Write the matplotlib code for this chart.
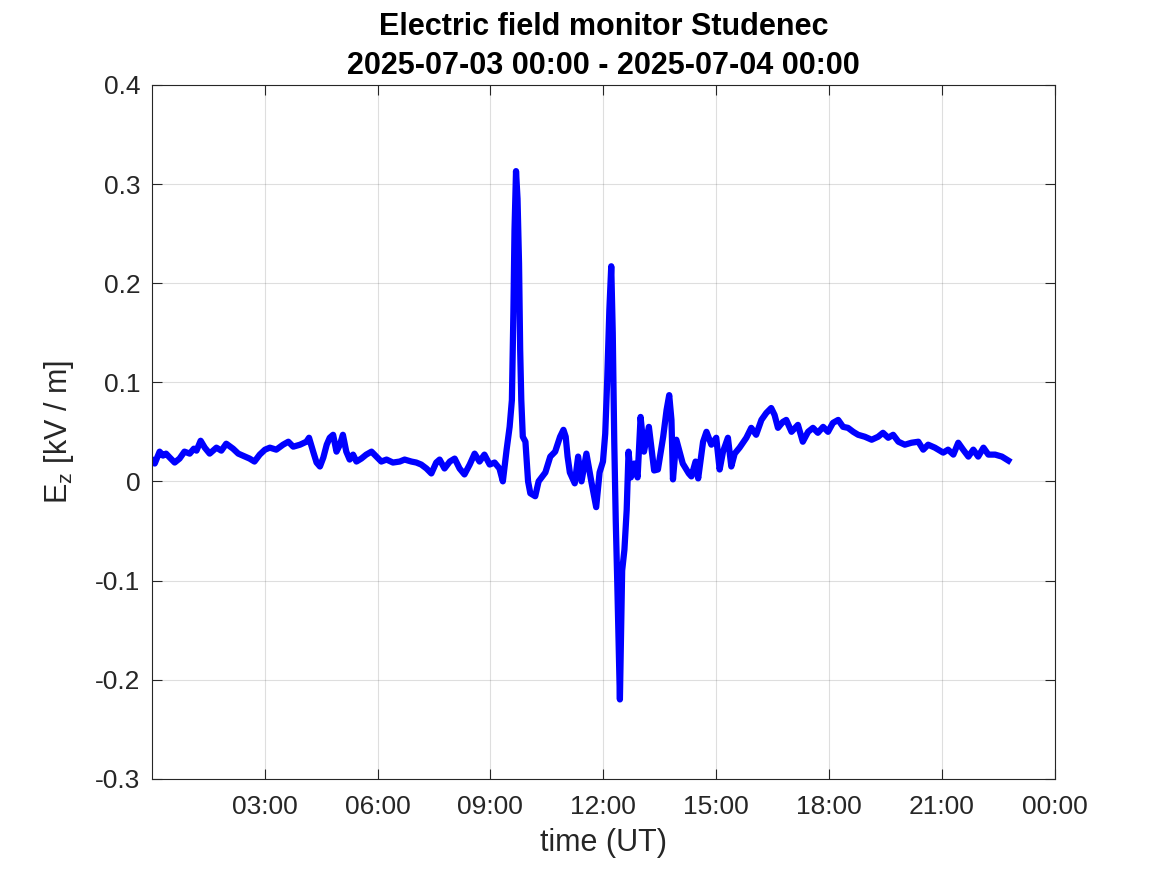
import matplotlib
matplotlib.use("Agg")
import matplotlib.pyplot as plt

# Electric field monitor Studenec, 2025-07-03
hours = [
    0.00, 0.08, 0.21, 0.30, 0.38, 0.48, 0.61, 0.74, 0.87, 1.01,
    1.12, 1.19, 1.30, 1.41, 1.54, 1.72, 1.85, 1.98, 2.16, 2.30,
    2.48, 2.60, 2.73, 2.87, 3.01, 3.14, 3.31, 3.49, 3.63, 3.76,
    3.94, 4.11, 4.18, 4.29, 4.38, 4.47, 4.56, 4.65, 4.73, 4.82,
    4.91, 5.00, 5.08, 5.17, 5.26, 5.35, 5.44, 5.57, 5.70, 5.84,
    5.97, 6.10, 6.24, 6.41, 6.59, 6.72, 6.90, 7.03, 7.16, 7.30,
    7.43, 7.56, 7.65, 7.78, 7.92, 8.05, 8.18, 8.31, 8.45, 8.58,
    8.71, 8.84, 8.98, 9.11, 9.24, 9.33, 9.43, 9.51, 9.57, 9.61,
    9.64, 9.68, 9.72, 9.76, 9.79, 9.82, 9.86, 9.93, 10.00, 10.06,
    10.19, 10.28, 10.46, 10.59, 10.72, 10.85, 10.94, 11.00, 11.05, 11.11,
    11.24, 11.33, 11.42, 11.55, 11.68, 11.81, 11.90, 11.99, 12.05, 12.10,
    12.16, 12.21, 12.25, 12.29, 12.33, 12.37, 12.41, 12.44, 12.47, 12.50,
    12.56, 12.62, 12.67, 12.73, 12.82, 12.91, 12.99, 13.08, 13.21, 13.35,
    13.45, 13.59, 13.68, 13.75, 13.81, 13.85, 13.94, 14.11, 14.27, 14.34,
    14.45, 14.52, 14.65, 14.74, 14.87, 15.00, 15.09, 15.18, 15.31, 15.40,
    15.49, 15.62, 15.80, 15.93, 16.06, 16.20, 16.33, 16.46, 16.55, 16.64,
    16.77, 16.86, 17.00, 17.17, 17.30, 17.44, 17.57, 17.70, 17.84, 17.97,
    18.10, 18.24, 18.37, 18.50, 18.64, 18.77, 18.95, 19.13, 19.30, 19.43,
    19.57, 19.70, 19.84, 20.01, 20.19, 20.37, 20.50, 20.63, 20.81, 21.03,
    21.16, 21.30, 21.43, 21.56, 21.70, 21.83, 21.96, 22.10, 22.23, 22.41,
    22.59, 22.72, 22.76,
]
ez = [
    0.022, 0.018, 0.030, 0.026, 0.028, 0.024, 0.019, 0.023, 0.030, 0.028,
    0.033, 0.031, 0.041, 0.034, 0.028, 0.034, 0.031, 0.038, 0.033, 0.028,
    0.025, 0.023, 0.020, 0.027, 0.032, 0.034, 0.032, 0.037, 0.040, 0.035,
    0.037, 0.040, 0.044, 0.030, 0.019, 0.015, 0.024, 0.037, 0.044, 0.047,
    0.030, 0.037, 0.047, 0.030, 0.022, 0.027, 0.020, 0.023, 0.027, 0.030,
    0.025, 0.020, 0.022, 0.019, 0.020, 0.022, 0.020, 0.019, 0.017, 0.013,
    0.008, 0.019, 0.022, 0.013, 0.020, 0.023, 0.013, 0.007, 0.017, 0.028,
    0.020, 0.027, 0.017, 0.019, 0.013, 0.000, 0.032, 0.055, 0.082, 0.170,
    0.254, 0.313, 0.285, 0.220, 0.133, 0.082, 0.045, 0.040, 0.000, -0.012,
    -0.015, 0.000, 0.009, 0.025, 0.030, 0.045, 0.052, 0.045, 0.025, 0.009,
    -0.002, 0.025, 0.000, 0.028, 0.000, -0.026, 0.009, 0.020, 0.048, 0.099,
    0.173, 0.217, 0.150, 0.040, -0.040, -0.102, -0.170, -0.220, -0.153, -0.090,
    -0.069, -0.029, 0.030, 0.004, 0.018, 0.004, 0.065, 0.030, 0.055, 0.011,
    0.012, 0.045, 0.072, 0.087, 0.062, 0.002, 0.042, 0.018, 0.008, 0.005,
    0.020, 0.003, 0.040, 0.050, 0.037, 0.044, 0.012, 0.030, 0.044, 0.015,
    0.028, 0.034, 0.044, 0.054, 0.047, 0.062, 0.069, 0.074, 0.067, 0.054,
    0.060, 0.062, 0.050, 0.057, 0.040, 0.050, 0.054, 0.049, 0.055, 0.050,
    0.059, 0.062, 0.055, 0.054, 0.050, 0.047, 0.045, 0.042, 0.045, 0.049,
    0.044, 0.047, 0.040, 0.037, 0.039, 0.040, 0.032, 0.037, 0.034, 0.029,
    0.032, 0.027, 0.039, 0.032, 0.025, 0.032, 0.025, 0.034, 0.027, 0.027,
    0.025, 0.022, 0.021,
]

xticks = [3, 6, 9, 12, 15, 18, 21, 24]
xticklabels = ["03:00", "06:00", "09:00", "12:00", "15:00", "18:00", "21:00", "00:00"]
yticks = [-0.3, -0.2, -0.1, 0, 0.1, 0.2, 0.3, 0.4]
yticklabels = ["-0.3", "-0.2", "-0.1", "0", "0.1", "0.2", "0.3", "0.4"]

plt.rcParams["font.family"] = ["Liberation Sans", "DejaVu Sans"]

fig = plt.figure(figsize=(11.67, 8.75), dpi=100, facecolor="white")
ax = fig.add_axes([0.130, 0.110, 0.774, 0.793])

ax.plot(hours, ez, color=(0, 0, 1), linewidth=4.5)

ax.set_xlim(0, 24)
ax.set_ylim(-0.3, 0.4)
ax.set_xticks(xticks)
ax.set_xticklabels(xticklabels)
ax.set_yticks(yticks)
ax.set_yticklabels(yticklabels)

ax.grid(True, color="#262626", alpha=0.15, linewidth=0.8)
ax.tick_params(direction="in", length=7, width=0.8, top=True, right=True,
               labelsize=19, colors="#262626")
ax.tick_params(axis="x", pad=12)
ax.tick_params(axis="y", pad=8)
for s in ax.spines.values():
    s.set_color("#262626")
    s.set_linewidth(0.8)

ax.set_xlabel("time (UT)", fontsize=22, color="#262626", labelpad=6)
ax.set_ylabel(r"E$_\mathregular{z}$ [kV / m]", fontsize=22, color="#262626", labelpad=14)
ax.set_title("Electric field monitor Studenec\n2025-07-03 00:00 - 2025-07-04 00:00",
             fontsize=22, fontweight="bold", linespacing=1.4, pad=8)

fig.savefig("out.png", dpi=100, facecolor=fig.get_facecolor())
